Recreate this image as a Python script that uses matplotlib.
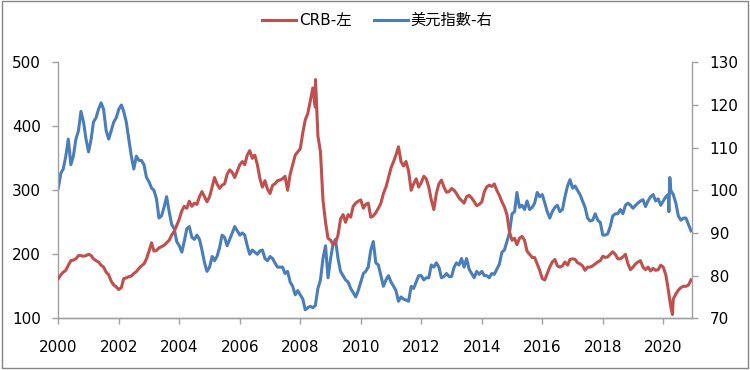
import numpy as np
import pandas as pd
import matplotlib
matplotlib.use("Agg")
from matplotlib import pyplot as plt
from matplotlib.patches import Rectangle

# monthly values, Jan 2000 .. Dec 2020
crb = [
    162, 168, 172, 175, 183, 190, 191, 193, 198, 198, 197, 198,   # 2000
    200, 198, 193, 190, 188, 183, 180, 172, 168, 158, 152, 149,   # 2001
    145, 148, 162, 163, 165, 166, 170, 173, 178, 182, 185, 193,   # 2002
    205, 218, 205, 206, 210, 212, 214, 218, 222, 230, 236, 245,   # 2003
    255, 268, 275, 272, 283, 275, 280, 278, 290, 298, 290, 282,   # 2004
    290, 305, 320, 310, 303, 308, 310, 325, 332, 328, 320, 330,   # 2005
    340, 345, 340, 355, 362, 350, 355, 340, 318, 305, 315, 302,   # 2006
    295, 308, 310, 315, 316, 318, 322, 300, 325, 340, 355, 360,   # 2007
    365, 390, 410, 420, 440, 460, 430, 385, 360, 285, 250, 225,   # 2008
    222, 215, 218, 230, 255, 262, 250, 262, 258, 275, 280, 283,   # 2009
    285, 272, 278, 280, 258, 260, 265, 272, 280, 295, 305, 320,   # 2010
    335, 345, 355, 368, 345, 338, 345, 330, 300, 310, 318, 305,   # 2011
    312, 322, 318, 305, 285, 270, 295, 310, 316, 305, 297, 298,   # 2012
    303, 300, 295, 288, 284, 280, 290, 292, 288, 282, 276, 278,   # 2013
    282, 298, 305, 308, 306, 310, 300, 292, 282, 274, 262, 235,   # 2014
    222, 225, 215, 225, 228, 222, 205, 200, 195, 195, 185, 175,   # 2015
    162, 160, 170, 180, 188, 192, 182, 180, 182, 188, 183, 192,   # 2016
    193, 192, 187, 185, 182, 175, 180, 180, 182, 185, 188, 190,   # 2017
    197, 195, 196, 200, 204, 200, 193, 193, 196, 200, 185, 176,   # 2018
    180, 185, 188, 190, 180, 176, 180, 174, 178, 175, 176, 183,   # 2019
    180, 168, 145, 118, 130, 138, 144, 148, 150, 150, 152, 160,   # 2020
]
dxy = [
    100.5, 104, 105, 108, 112, 106, 108, 112, 114, 118.5, 116, 112,          # 2000
    109, 112, 116, 117, 119, 120.5, 119, 114, 112, 114, 116, 117,            # 2001
    119, 120, 118.5, 116, 112, 108, 105, 108, 107, 107, 106, 103,            # 2002
    102, 100.5, 100, 98, 93.5, 94, 96, 98.5, 95, 92, 91, 88,                 # 2003
    87, 85.5, 88, 91, 91.5, 89, 88.5, 89.5, 88.5, 86, 83, 81,                # 2004
    82, 84.5, 83.5, 84.5, 86.5, 89.5, 89, 87, 88.5, 90, 91.5, 90.5,          # 2005
    89.5, 90, 89.5, 87, 85, 86, 85.5, 85, 85.8, 86, 84, 83.5,                # 2006
    84.5, 84, 83, 82, 82, 82, 80.5, 81, 78.5, 77.5, 75.5, 76.5,              # 2007
    75.5, 74.5, 72, 72.5, 72.8, 72.5, 73, 77, 79, 84, 87, 79.5,              # 2008
    84, 87.5, 88.5, 84, 81, 80, 79, 78.5, 77, 76, 75, 76.5,                  # 2009
    78.5, 80.5, 81, 82, 86, 88, 83, 82.5, 80, 77.5, 79, 80,                  # 2010
    78.5, 77.5, 76.5, 74, 75, 74.5, 74.3, 74, 77.5, 77, 78.5, 80,            # 2011
    80, 79, 79.5, 79.5, 82.5, 82, 83, 82, 79.5, 79.8, 80.5, 79.8,            # 2012
    79.8, 82, 83, 82.5, 84, 82, 84, 81.5, 80.5, 79.5, 81, 80.3,              # 2013
    81, 80, 80, 79.5, 80.5, 80.3, 81.5, 82.7, 85.5, 86, 88, 90,              # 2014
    94.5, 95, 99.5, 96, 96.5, 95.5, 97.5, 95.5, 96, 97, 99.5, 98.5,          # 2015
    99, 97, 95, 93.5, 95, 96, 96.5, 95, 95.5, 98.5, 101, 102.5,              # 2016
    100.5, 101, 100, 99, 97.5, 96, 93.5, 92.8, 93, 94.5, 93, 92.5,           # 2017
    89.5, 89.5, 89.8, 91.5, 94, 94.5, 94.5, 95.5, 94.5, 96.5, 97, 96.5,      # 2018
    95.8, 96.5, 97, 97.5, 97.8, 96.2, 97.5, 98.5, 99, 97.5, 98, 96.5,        # 2019
    97.5, 98.5, 99, 100, 99, 97, 94, 93, 93.5, 93.5, 92, 90.5,               # 2020
]
# short spikes that the monthly points miss
crb_spike_dates = ["2008-07-03", "2020-04-21"]
crb_spike_vals = [473, 106]
dxy_spike_dates = ["2020-03-09", "2020-03-20"]
dxy_spike_vals = [95, 103]

months = pd.date_range("2000-01-01", periods=len(crb), freq="MS")
s_crb = pd.concat([pd.Series(crb, index=months),
                   pd.Series(crb_spike_vals, index=pd.to_datetime(crb_spike_dates))]).sort_index()
s_dxy = pd.concat([pd.Series(dxy, index=months),
                   pd.Series(dxy_spike_vals, index=pd.to_datetime(dxy_spike_dates))]).sort_index()

years = list(range(2000, 2021, 2))

plt.rcParams['font.family'] = ['DejaVu Sans', 'Noto Sans CJK TC']
red = '#C0504D'
blue = '#4A7EBB'
grey = '#A0A0A0'

fig = plt.figure(figsize=(7.5, 3.7), dpi=100)
ax = fig.add_axes([0.0777, 0.1397, 0.9231 - 0.0777, 0.8316 - 0.1397])
ax2 = ax.twinx()

l1, = ax.plot(s_crb.index, s_crb.values, color=red, lw=2.2, label='CRB-左', zorder=3)
l2, = ax2.plot(s_dxy.index, s_dxy.values, color=blue, lw=2.2, label='美元指數-右')
ax.set_zorder(ax2.get_zorder() + 1)
ax.patch.set_visible(False)

ax.set_xlim(pd.Timestamp("2000-01-01"), pd.Timestamp("2020-12-17"))
ax.set_ylim(100, 500)
ax2.set_ylim(70, 130)
ax.set_yticks(range(100, 501, 100))
ax2.set_yticks(range(70, 131, 10))
ax.set_xticks([pd.Timestamp(f"{y}-01-01") for y in years])
ax.set_xticklabels([str(y) for y in years])

for a in (ax, ax2):
    a.spines['top'].set_visible(False)
    for sp in ('left', 'right', 'bottom'):
        a.spines[sp].set_color(grey)
        a.spines[sp].set_linewidth(1.0)
    a.tick_params(colors=grey, labelcolor='#000000', labelsize=11, length=4.5, width=1.0, pad=8)
ax.spines['right'].set_visible(False)
ax2.spines['left'].set_visible(False)
ax.tick_params(axis='x', pad=11)

fig.legend(handles=[l1, l2], loc='center', bbox_to_anchor=(0.503, 0.945), ncol=2,
           frameon=False, fontsize=11, handlelength=2.2, handletextpad=0.2, columnspacing=1.5)

fig.patches.append(Rectangle((0.003, 0.005), 0.994, 0.992, transform=fig.transFigure,
                             fill=False, edgecolor='#868686', lw=1.0))

fig.savefig("out.png", dpi=100)
